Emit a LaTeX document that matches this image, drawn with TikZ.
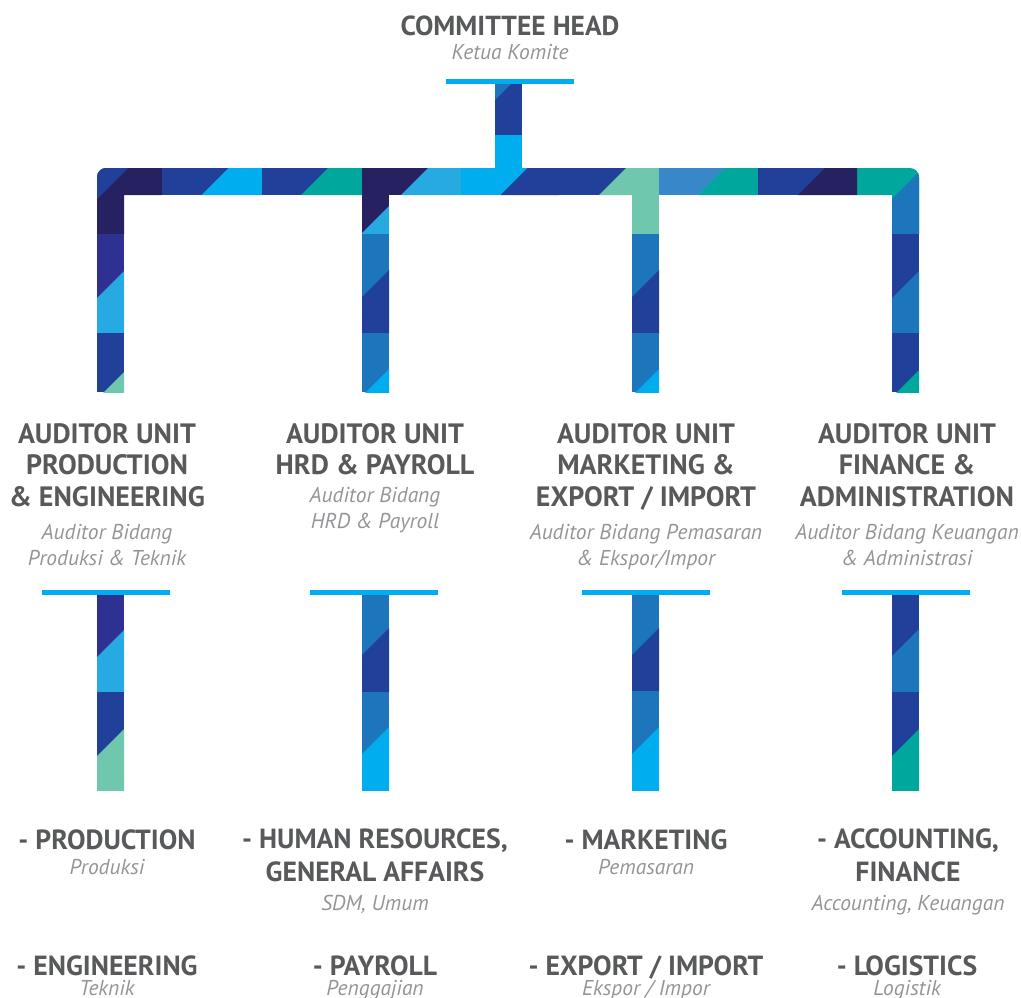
\documentclass[tikz,border=0pt]{standalone}
\usepackage{fontspec}
\setmainfont{PT Sans}
\usepackage{xcolor}
\usetikzlibrary{positioning}
\definecolor{navy}{HTML}{262262}
\definecolor{dblue}{HTML}{21409A}
\definecolor{indigo}{HTML}{2E3192}
\definecolor{mblue}{HTML}{1D75BC}
\definecolor{sblue}{HTML}{3887C8}
\definecolor{cyan}{HTML}{00AEEF}
\definecolor{lcyan}{HTML}{27AAE1}
\definecolor{teal}{HTML}{00A79D}
\definecolor{mint}{HTML}{6FC7AD}
\definecolor{txtdark}{HTML}{58595B}
\definecolor{txtlight}{HTML}{939598}
\tikzset{
  title/.style={font=\bfseries\fontsize{27.5}{31.5}\selectfont,text=txtdark,align=center,inner sep=0pt,anchor=base},
  unit/.style={font=\bfseries\fontsize{28}{31.5}\selectfont,text=txtdark,align=center,inner sep=0pt,anchor=base},
  dept/.style={font=\bfseries\fontsize{27.7}{32.5}\selectfont,text=txtdark,align=center,inner sep=0pt,anchor=base},
  subtxt/.style={font=\itshape\fontsize{21.5}{26}\selectfont,text=txtlight,align=center,inner sep=0pt,anchor=base},
  bar/.style={fill=cyan}
}

\begin{document}
\begin{tikzpicture}[x=1pt,y=-1pt]
  \useasboundingbox (0,0) rectangle (1021,997);

  % stem under the head
  \fill[dblue] (495,81) rectangle (522,135);
  \fill[mblue] (495,100) -- (495,81) -- (514,81) -- cycle;
  \fill[cyan] (495,135) rectangle (522,169);
  \fill[bar] (446,79) rectangle (574,84);

  % left corner
  \begin{scope}
    \clip (97,234) [rounded corners=9pt] -- (97,168) [sharp corners] -- (162,168) -- (162,195) -- (124,195) -- (124,234) -- cycle;
    \fill[navy] (90,160) rectangle (162,234);
    \fill[dblue] (97,199) -- (97,160) -- (136,160) -- cycle;
  \end{scope}
  % right corner
  \begin{scope}
    \clip (857,168) [rounded corners=9pt] -- (919,168) [sharp corners] -- (919,234) -- (892,234) -- (892,195) -- (857,195) -- cycle;
    \fill[teal] (857,160) rectangle (925,234);
    \fill[mblue] (892,199) -- (925,166) -- (925,234) -- (892,234) -- cycle;
  \end{scope}

  % horizontal bar
  \foreach \xa/\xb/\ca/\cb/\xd in {162/262/dblue/cyan/201.5, 262/362/dblue/teal/301,
      362/461/navy/lcyan/401, 461/559/cyan/dblue/500.5, 559/659/dblue/mint/599,
      659/758/sblue/teal/698, 758/857/dblue/navy/798}{
    \begin{scope}
      \clip (\xa,168) rectangle (\xb,195);
      \fill[\ca] (\xa,168) rectangle (\xb,195);
      \fill[\cb] (\xd,195) -- ++(27,-27) -- (\xb,168) -- (\xb,195) -- cycle;
    \end{scope}
  }
  \fill[mint] (632,195) rectangle (659,234);

  % vertical pieces
  \foreach \xl/\ya/\yb/\ca/\cb/\yd in {97/234/333/indigo/lcyan/298, 97/333/392/dblue/mint/399,
      362/195/234/navy/lcyan/233, 362/234/333/mblue/dblue/297, 362/333/392/mblue/cyan/396,
      632/234/333/mblue/dblue/297, 632/333/392/mblue/cyan/396,
      892/234/333/dblue/mblue/298, 892/333/392/dblue/teal/397,
      97/592/692/indigo/lcyan/657, 97/692/790/dblue/mint/756,
      362/592/692/mblue/dblue/655, 362/692/790/mblue/cyan/754,
      632/592/691/mblue/dblue/655, 632/691/790/mblue/cyan/754,
      892/592/692/dblue/mblue/656, 892/692/790/dblue/teal/756}{
    \begin{scope}
      \clip (\xl,\ya) rectangle ({\xl+27},\yb);
      \fill[\ca] (\xl,\ya) rectangle ({\xl+27},\yb);
      \fill[\cb] (\xl,\yd) -- ++(27,-27) -- ++(0,200) -- ++(-27,0) -- cycle;
    \end{scope}
  }

  % lower bars
  \foreach \xa in {42,310,582,842}
    \fill[bar] (\xa,590) rectangle ++(128,5);

  % texts (anchor base = last line)
  \node (head) [title] at (510,35) {COMMITTEE HEAD};
  \node (headsub) [subtxt] at (510,59) {Ketua Komite};

  \node (u1) [unit] at (107,506) {AUDITOR UNIT\\PRODUCTION\\\& ENGINEERING};
  \node (u2) [unit] at (375,474.5) {AUDITOR UNIT\\HRD \& PAYROLL};
  \node (u3) [unit] at (646,506) {AUDITOR UNIT\\MARKETING \&\\EXPORT / IMPORT};
  \node (u4) [unit] at (907,506) {AUDITOR UNIT\\FINANCE \&\\ADMINISTRATION};
  \node (u1sub) [subtxt] at (107,565) {Auditor Bidang\\Produksi \& Teknik};
  \node (u2sub) [subtxt] at (375,528.5) {Auditor Bidang\\HRD \& Payroll};
  \node (u3sub) [subtxt] at (646,565) {Auditor Bidang Pemasaran\\\& Ekspor/Impor};
  \node (u4sub) [subtxt] at (907,565) {Auditor Bidang Keuangan\\\& Administrasi};

  \node (d1a) [dept] at (107,849) {- PRODUCTION};
  \node (d1asub) [subtxt] at (107,874.5) {Produksi};
  \node (d1b) [dept] at (107,975) {- ENGINEERING};
  \node (d1bsub) [subtxt] at (107,995) {Teknik};
  \node (d2a) [dept] at (375,881) {- HUMAN RESOURCES,\\GENERAL AFFAIRS};
  \node (d2asub) [subtxt] at (375,910) {SDM, Umum};
  \node (d2b) [dept] at (375,975) {- PAYROLL};
  \node (d2bsub) [subtxt] at (375,995) {Penggajian};
  \node (d3a) [dept] at (646,849) {- MARKETING};
  \node (d3asub) [subtxt] at (646,874.5) {Pemasaran};
  \node (d3b) [dept] at (646,975) {- EXPORT / IMPORT};
  \node (d3bsub) [subtxt] at (646,995) {Ekspor / Impor};
  \node (d4a) [dept] at (908,881) {- ACCOUNTING,\\FINANCE};
  \node (d4asub) [subtxt] at (908,910) {Accounting, Keuangan};
  \node (d4b) [dept] at (907,975) {- LOGISTICS};
  \node (d4bsub) [subtxt] at (907,995) {Logistik};
\end{tikzpicture}
\end{document}
